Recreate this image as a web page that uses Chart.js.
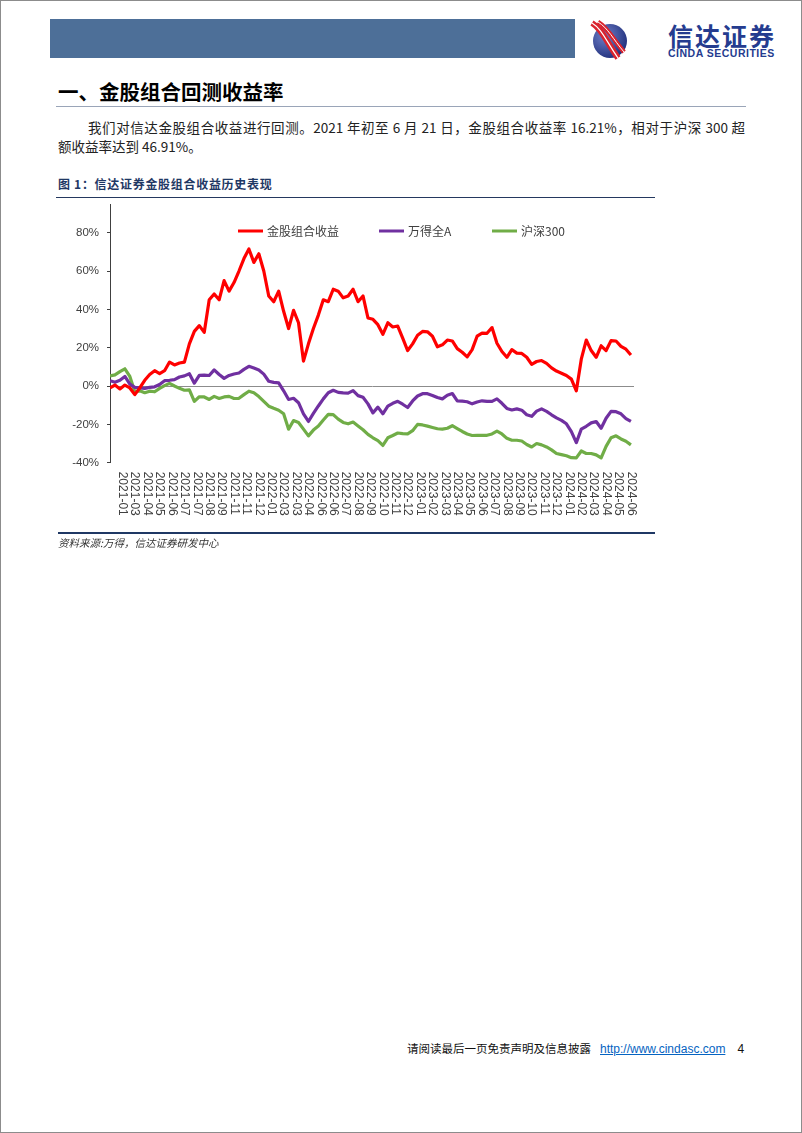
<!DOCTYPE html>
<html>
<head>
<meta charset="utf-8">
<script src="https://cdn.jsdelivr.net/npm/chart.js@4.4.1/dist/chart.umd.min.js"></script>
<style>
    body { margin: 0; background: #fff; }
    #pagina { position: relative; width: 802px; height: 1133px; overflow: hidden; background: #fff; font-family: "Noto Sans CJK SC", sans-serif; }
    #moldura { position: absolute; left: 0; top: 0; width: 802px; height: 1133px; box-sizing: border-box; border: 1px solid #8c8c8c; pointer-events: none; }
    .abs { position: absolute; white-space: nowrap; }
    #barra { left: 50px; top: 19px; width: 525px; height: 39px; background: #4d6f98; }
    #marca { left: 668px; top: 20px; font-size: 25px; line-height: 30px; font-weight: 700; color: #253c8f; letter-spacing: 2px; }
    #marcaEn { left: 668px; top: 48px; font-family: "Liberation Sans", Arial, sans-serif; font-size: 10.5px; line-height: 11px; font-weight: 700; color: #253c8f; letter-spacing: 0.5px; }
    #titulo { left: 58px; top: 78px; font-size: 20.5px; line-height: 27px; font-weight: 700; color: #000; }
    #linhaTitulo { left: 56px; top: 106px; width: 690px; height: 1px; background: #9aa5b8; }
    .par { font-size: 13.5px; line-height: 18px; color: #222; }
    #par1 { left: 88px; top: 118px; width: 657px; text-align: justify; text-align-last: justify; }
    #par2 { left: 58px; top: 137px; }
    #legenda { left: 58px; top: 176px; font-size: 12px; line-height: 16px; font-weight: 700; color: #1f3864; letter-spacing: 0.7px; }
    #linhaLegenda { left: 56px; top: 197px; width: 599px; height: 1px; background: #24385f; }
    #linhaFonte { left: 58px; top: 532px; width: 597px; height: 1.5px; background: #1f3864; }
    #fonte { left: 58px; top: 536px; font-size: 10.5px; line-height: 14px; font-style: italic; color: #333; }
    #rodape { left: 407px; top: 1040px; font-size: 11.5px; line-height: 16px; color: #111; }
    #rodape a { font-family: "Liberation Sans", Arial, sans-serif; font-size: 12px; color: #0563c1; text-decoration: underline; margin-left: 9px; }
    #rodape .num { font-family: "Liberation Sans", Arial, sans-serif; font-size: 12px; margin-left: 12px; }
    #caixaGrafico { left: 56px; top: 190px; width: 600px; height: 345px; }
</style>
</head>
<body>
<div id="pagina">
    <div id="barra" class="abs"></div>
    <svg class="abs" style="left:588px;top:19px" width="42" height="42" viewBox="0 0 42 42">
        <defs>
            <radialGradient id="esfera" cx="0.35" cy="0.35" r="0.75">
                <stop offset="0" stop-color="#6f80c8"/>
                <stop offset="1" stop-color="#1c2b78"/>
            </radialGradient>
        </defs>
        <circle cx="22" cy="22" r="17" fill="url(#esfera)"/>
        <path d="M4 4 C 14 10, 18 22, 30 39" stroke="#d9232e" stroke-width="6" fill="none"/>
        <path d="M4 4 C 14 10, 18 22, 30 39" stroke="#fff" stroke-width="1.2" fill="none"/>
        <path d="M10 3 C 20 9, 25 20, 36 33" stroke="#d9232e" stroke-width="4.5" fill="none"/>
        <path d="M10 3 C 20 9, 25 20, 36 33" stroke="#fff" stroke-width="1" fill="none"/>
    </svg>
    <div id="marca" class="abs">信达证券</div>
    <div id="marcaEn" class="abs">CINDA SECURITIES</div>

    <div id="titulo" class="abs">一、金股组合回测收益率</div>
    <div id="linhaTitulo" class="abs"></div>
    <div id="par1" class="abs par">我们对信达金股组合收益进行回测。2021 年初至 6 月 21 日，金股组合收益率 16.21%，相对于沪深 300 超</div>
    <div id="par2" class="abs par">额收益率达到 46.91%。</div>

    <div id="legenda" class="abs">图 1：信达证券金股组合收益历史表现</div>
    <div id="linhaLegenda" class="abs"></div>
    <div id="caixaGrafico" class="abs"><canvas id="chartJinGu" width="600" height="345"></canvas></div>
    <div id="linhaFonte" class="abs"></div>
    <div id="fonte" class="abs">资料来源:万得，信达证券研发中心</div>

    <div id="rodape" class="abs">请阅读最后一页免责声明及信息披露<a>http://www.cindasc.com</a><span class="num">4</span></div>
    <div id="moldura"></div>
</div>

<script>
// Dados (% acumulado, um ponto a cada 8 pregões)
var nomesSeries = ["金股组合收益", "万得全A", "沪深300"];
var coresSeries = ["#ff0000", "#7030a0", "#70ad47"];

var jinGu = [
    -1, 0.5, -1.5, 0.5, -1, -4.5, -1, 3, 6, 8,
    6.5, 8, 12.5, 11, 12, 12.5, 22, 28.5, 31.5, 28,
    45, 48, 45, 55, 49.5, 54, 60, 66.5, 71.5, 64.5,
    69, 60, 47, 44, 49.5, 39, 30, 39.5, 33, 13,
    22, 30, 37, 45, 44, 50.5, 49.5, 46, 47, 50.5,
    44, 47, 35.5, 34.8, 32, 27, 33, 30.8, 31.3, 25,
    18.5, 22, 26.5, 28.5, 28.3, 26, 20.5, 21.5, 24, 23.5,
    19.5, 17.6, 15.2, 19, 26, 27.6, 27.5, 30.5, 22.3, 18,
    15, 19, 17.2, 17, 15, 11.3, 12.8, 13.3, 11.8, 9.5,
    7.8, 6.7, 5.5, 3.6, -2.5, 14, 24, 18.5, 15, 21,
    18.5, 23.7, 23.5, 20.7, 19.2, 16.2
];

var wandeA = [
    2.8, 2, 3, 5, 1, -0.7, -1, -1.2, -0.7, -0.4,
    0.8, 2.8, 3, 3.3, 4.7, 5.3, 6.4, 1.5, 5.6, 5.7,
    5.5, 8.4, 6, 4, 5.5, 6.3, 6.8, 8.7, 10.3, 9.4,
    8.4, 6.2, 2.5, 1.9, 1.6, -2.5, -7, -6.4, -8.7, -14.5,
    -18.5, -14.3, -10.4, -6.7, -3.5, -2.2, -3.3, -3.6, -3.7, -2.4,
    -5, -5.9, -9.3, -14, -11, -14.5, -10.5, -9, -8, -9.5,
    -11.2, -7.8, -5.2, -4, -4, -4.9, -6, -6.7, -4.8, -3.9,
    -7.7, -7.9, -8.2, -9.3, -8.3, -7.7, -8, -8, -6.7, -9,
    -11.7, -12.5, -11.9, -12.6, -15, -15.8, -13.1, -11.9, -13.2, -15,
    -16.6, -17.9, -19.7, -23.8, -29.5, -22.5, -21, -19.2, -18.5, -22,
    -16.8, -13.2, -13.4, -14.5, -17, -18.5
];

var hs300 = [
    5.3, 5.8, 7.5, 9, 5, -3, -2.5, -3.5, -2.7, -3,
    -1.2, 0.2, 1.4, 0, -1.2, -2.2, -2, -8, -5.6, -5.7,
    -7, -5.4, -6.5, -5.7, -5.4, -6.5, -6.4, -4.5, -2.7, -3.5,
    -5.5, -8, -10.5, -11.6, -12.6, -14.5, -22.5, -18, -19, -22.5,
    -26, -23, -20.9, -17.7, -14.8, -14.9, -17.3, -19, -19.7, -18.8,
    -20.8, -22.8, -25.2, -27, -28.5, -31, -27, -25.8, -24.5, -24.8,
    -25, -23.3, -20, -20.3, -20.9, -21.6, -22.3, -22.5, -22, -20.7,
    -22.2, -23.7, -25, -25.8, -25.7, -25.7, -25.7, -25, -23.5, -25,
    -27.3, -28.3, -28.3, -28.7, -30.5, -31.8, -30, -30.7, -31.8, -33.3,
    -35.2, -35.8, -36.4, -37.4, -37.5, -33.9, -35.2, -35.2, -35.9, -37.5,
    -31.5, -27, -26, -27.6, -28.8, -30.7
];

var rotulosX = [
    "2021-01", "2021-03", "2021-04", "2021-05", "2021-06", "2021-07", "2021-07", "2021-08", "2021-09", "2021-11", "2021-11", "2021-12",
    "2022-01", "2022-03", "2022-03", "2022-04", "2022-06", "2022-06", "2022-07", "2022-08", "2022-09", "2022-10", "2022-11", "2022-12",
    "2023-01", "2023-02", "2023-03", "2023-04", "2023-05", "2023-06", "2023-07", "2023-08", "2023-09", "2023-10", "2023-11", "2023-12",
    "2024-01", "2024-02", "2024-03", "2024-04", "2024-05", "2024-06"
];
var ticksY = [-40, -20, 0, 20, 40, 60, 80];

var diasPorPonto = 8;
var diasPorRotulo = 20;
var totalDias = 845;

function pontos(serie) {
    return serie.map(function (v, i) { return { x: i * diasPorPonto, y: v }; });
}

// rótulos do eixo x girados 90° (lidos de cima para baixo)
var rotuloX = {
    id: "rotuloX",
    afterDraw: function (chart) {
        var ctx = chart.ctx;
        var sx = chart.scales.x;
        var y0 = chart.chartArea.bottom + 9;
        ctx.save();
        ctx.font = '12px "Liberation Sans", Arial, sans-serif';
        ctx.fillStyle = "#404040";
        ctx.textAlign = "left";
        ctx.textBaseline = "middle";
        rotulosX.forEach(function (t, k) {
            var px = sx.getPixelForValue(diasPorRotulo * (k + 1));
            ctx.save();
            ctx.translate(px, y0);
            ctx.rotate(Math.PI / 2);
            ctx.fillText(t, 0, 0);
            ctx.restore();
        });
        ctx.restore();
    }
};

// legenda dentro da área do gráfico
var legendaInterna = {
    id: "legendaInterna",
    afterDraw: function (chart) {
        var ctx = chart.ctx;
        var posX = [182, 323, 436];
        var y = 41;
        ctx.save();
        ctx.font = '12px "Noto Sans CJK SC", sans-serif';
        ctx.textBaseline = "middle";
        ctx.textAlign = "left";
        chart.data.datasets.forEach(function (ds, i) {
            ctx.strokeStyle = ds.borderColor;
            ctx.lineWidth = 3;
            ctx.beginPath();
            ctx.moveTo(posX[i], y);
            ctx.lineTo(posX[i] + 25, y);
            ctx.stroke();
            ctx.fillStyle = "#404040";
            ctx.fillText(ds.label, posX[i] + 29, y);
        });
        ctx.restore();
    }
};

function plotarGrafico() {
    var ctx = document.getElementById("chartJinGu").getContext("2d");
    var series = [jinGu, wandeA, hs300];
    new Chart(ctx, {
        type: "line",
        data: {
            datasets: series.map(function (s, i) {
                return {
                    label: nomesSeries[i],
                    data: pontos(s),
                    borderColor: coresSeries[i],
                    borderWidth: 3.2,
                    borderJoinStyle: "round",
                    pointRadius: 0,
                    fill: false,
                    tension: 0
                };
            })
        },
        options: {
            responsive: false,
            animation: false,
            layout: { padding: { left: 0, right: 22, top: 12.7, bottom: 72.3 } },
            plugins: { legend: { display: false }, tooltip: { enabled: false } },
            scales: {
                x: { type: "linear", display: false, min: 0, max: totalDias },
                y: {
                    min: -40,
                    max: 94.5,
                    afterBuildTicks: function (scale) {
                        scale.ticks = ticksY.map(function (v) { return { value: v }; });
                    },
                    afterFit: function (scale) { scale.width = 54; },
                    border: { display: true, color: "#404040", width: 1 },
                    grid: {
                        drawOnChartArea: true,
                        color: function (c) { return c.tick && c.tick.value === 0 ? "#8c8c8c" : "rgba(0,0,0,0)"; },
                        tickColor: "#404040",
                        tickLength: 3
                    },
                    ticks: {
                        padding: 8,
                        color: "#404040",
                        font: { family: '"Liberation Sans", Arial, sans-serif', size: 11.5 },
                        callback: function (v) { return v + "%"; }
                    }
                }
            }
        },
        plugins: [rotuloX, legendaInterna]
    });
}

plotarGrafico();
</script>
</body>
</html>
